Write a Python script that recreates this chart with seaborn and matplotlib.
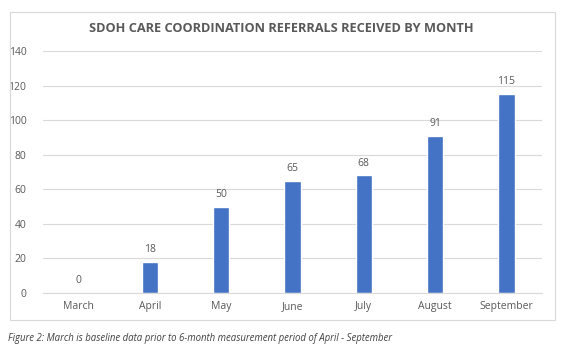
import numpy as np
import pandas as pd
import matplotlib
matplotlib.use("Agg")
import matplotlib.pyplot as plt
import seaborn as sns
from matplotlib.patches import Rectangle

months = ["March", "April", "May", "June", "July", "August", "September"]
referrals = [0, 18, 50, 65, 68, 91, 115]
y_ticks = [0, 20, 40, 60, 80, 100, 120, 140]

title_text = "SDOH CARE COORDINATION REFERRALS RECEIVED BY MONTH"
caption_text = "Figure 2: March is baseline data prior to 6-month measurement period of April - September"

df = pd.DataFrame({"month": months, "referrals": referrals})

sns.set_theme(style="whitegrid")
plt.rcParams['font.family'] = ['Open Sans', 'DejaVu Sans']

text_gray = "#595959"
grid_gray = "#D9D9D9"
bar_blue = "#4472C4"

fig = plt.figure(figsize=(5.63, 3.53), dpi=100)
fig.patch.set_facecolor("white")

# chart frame
fig.patches.append(Rectangle((10 / 563, 1 - 320 / 353), 545 / 563, 308 / 353,
                             transform=fig.transFigure, fill=False,
                             edgecolor=grid_gray, linewidth=0.8))

ax = fig.add_axes([43 / 563, 1 - 293 / 353, 499 / 563, 242 / 353])
sns.barplot(data=df, x="month", y="referrals", color=bar_blue, width=0.23,
            saturation=1, ax=ax)

ax.set_ylim(0, 140)
ax.set_yticks(y_ticks)
ax.set_xlim(-0.5, len(months) - 0.5)
ax.set_xlabel("")
ax.set_ylabel("")
ax.grid(axis="y", color=grid_gray, linewidth=0.8)
ax.grid(axis="x", visible=False)
for side in ["left", "right", "top"]:
    ax.spines[side].set_visible(False)
ax.spines["bottom"].set_color(grid_gray)
ax.spines["bottom"].set_linewidth(0.8)
ax.tick_params(axis="both", length=0, labelsize=7.5, colors=text_gray)
ax.tick_params(axis="x", pad=6)
ax.tick_params(axis="y", pad=12)

for i, v in enumerate(referrals):
    ax.annotate(str(v), (i, v), xytext=(0, 5), textcoords="offset points",
                ha="center", va="bottom", fontsize=7.5, color=text_gray)

fig.text(281 / 563, 1 - 29 / 353, title_text, ha="center", va="center",
         fontsize=9.2, fontweight="bold", color=text_gray)
fig.text(8 / 563, 1 - 338 / 353, caption_text, ha="left", va="center",
         fontsize=6.9, style="italic", color="#404040")

fig.savefig("out.png", dpi=100)
